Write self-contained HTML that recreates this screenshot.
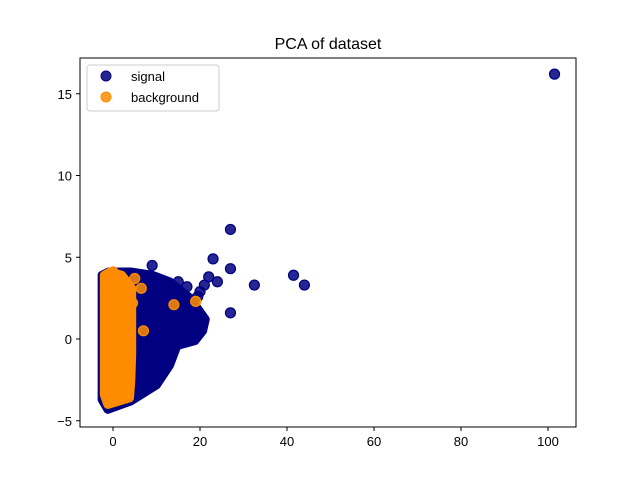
<!DOCTYPE html>
<html><head><meta charset="utf-8"><style>
body{margin:0;background:#fff}
svg{font-family:"Liberation Sans","DejaVu Sans",sans-serif}
</style></head><body>
<svg id="chart" width="640" height="480" viewBox="0 0 640 480">
<rect x="0" y="0" width="640" height="480" fill="#fff"/>
<text x="328" y="49" text-anchor="middle" font-size="16">PCA of dataset</text>
<g id="plot"></g>
<rect x="80" y="58" width="496" height="369" fill="none" stroke="#000" stroke-width="1"/>
<g id="xticks"></g><g id="yticks"></g>
<g>
<rect x="87" y="65" width="132" height="46" rx="3" fill="#fff" fill-opacity="0.8" stroke="#ccc"/>
<g><circle cx="106" cy="76" r="5" fill="#000080" fill-opacity="0.85" stroke="#000080"/><text x="131" y="81" font-size="13">signal</text></g>
<g><circle cx="106" cy="97" r="5" fill="#ff8c00" fill-opacity="0.85" stroke="#ff8c00"/><text x="131" y="102" font-size="13">background</text></g>
</g>
</svg>
<script>
const xTicks=[0,20,40,60,80,100];
const yTicks=[-5,0,5,10,15];
// dense cloud outlines (data coords)
const signalCloudX=[-2.5,-1,4,9,13,17.7,21.2,20.6,18.8,14.7,13,10,4,-1.2,-2.5];
const signalCloudY=[3.9,4.1,4.1,3.9,3.5,2.5,1.2,0.5,-0.1,-0.4,-1.6,-2.8,-3.8,-4.3,-3.7];
const bgCloudX=[-2,-0.7,2,4.3,4.3,4.1,3.8,-1.2,-2];
const bgCloudY=[3.9,4.1,3.9,3.1,-0.9,-2.5,-3.6,-4.0,-3.4];
const signalX=[101.5,27,27,23,24,41.5,44,32.5,27,9,22,21,20,19.5,17,15];
const signalY=[16.2,6.7,4.3,4.9,3.5,3.9,3.3,3.3,1.6,4.5,3.8,3.3,2.9,2.6,3.2,3.5];
const bgX=[5,6.5,14,19,7,0,-1,4.5];
const bgY=[3.7,3.1,2.1,2.3,0.5,4.1,-3.9,2.2];
const NS='http://www.w3.org/2000/svg';
const sx=v=>113+v*4.35, sy=v=>339-v*16.35;
const plot=document.getElementById('plot');
function poly(xs,ys,col,name){const p=document.createElementNS(NS,'polygon');
p.setAttribute('points',xs.map((x,i)=>sx(x)+','+sy(ys[i])).join(' '));
p.setAttribute('fill',col);p.setAttribute('stroke',col);p.setAttribute('stroke-width','9');p.setAttribute('stroke-linejoin','round');


plot.appendChild(p);}
function pts(xs,ys,col,name){xs.forEach((x,i)=>{const c=document.createElementNS(NS,'circle');
c.setAttribute('cx',sx(x));c.setAttribute('cy',sy(ys[i]));c.setAttribute('r','5');
c.setAttribute('fill',col);c.setAttribute('fill-opacity','0.85');c.setAttribute('stroke',col);c.setAttribute('stroke-width','1.2');


plot.appendChild(c);});}
poly(signalCloudX,signalCloudY,'#000080','signal-cloud');
pts(signalX,signalY,'#000080','signal-point');
poly(bgCloudX,bgCloudY,'#ff8c00','background-cloud');
pts(bgX,bgY,'#ff8c00','background-point');
const xg=document.getElementById('xticks'),yg=document.getElementById('yticks');
xTicks.forEach(t=>{const x=sx(t);
const l=document.createElementNS(NS,'line');l.setAttribute('x1',x);l.setAttribute('x2',x);l.setAttribute('y1',427);l.setAttribute('y2',431);l.setAttribute('stroke','#000');


xg.appendChild(l);
const s=document.createElementNS(NS,'text');s.setAttribute('x',x);s.setAttribute('y',446);s.setAttribute('text-anchor','middle');s.setAttribute('font-size','13');s.textContent=t;


xg.appendChild(s);});
yTicks.forEach(t=>{const y=sy(t);
const l=document.createElementNS(NS,'line');l.setAttribute('x1',76);l.setAttribute('x2',80);l.setAttribute('y1',y);l.setAttribute('y2',y);l.setAttribute('stroke','#000');


yg.appendChild(l);
const s=document.createElementNS(NS,'text');s.setAttribute('x',72);s.setAttribute('y',y+5);s.setAttribute('text-anchor','end');s.setAttribute('font-size','13');s.textContent=t<0?'\u2212'+(-t):t;


yg.appendChild(s);});
</script>
</body></html>
